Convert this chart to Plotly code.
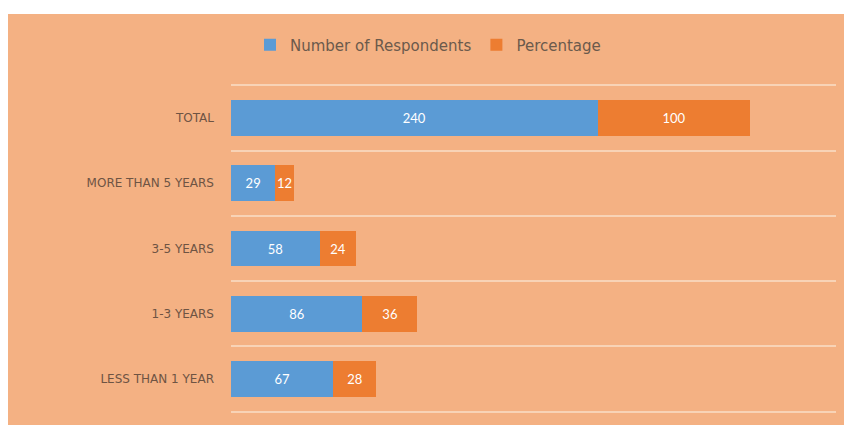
import plotly.graph_objects as go

categories = ["LESS THAN 1 YEAR", "1-3 YEARS", "3-5 YEARS", "MORE THAN 5 YEARS", "TOTAL"]
respondents = [67, 86, 58, 29, 240]
percentage = [28, 36, 24, 12, 100]

OFF = 8  # page body margin
W, H = 852 - OFF, 425 - OFF
ml, mr, mt, mb = 231 - OFF, 16, 84 - OFF, 11.5
pw, ph = W - ml - mr, H - mt - mb

def px_x(x):
    return (x - OFF - ml) / pw

def px_y(y):
    return (H - mb - (y - OFF)) / ph

fig = go.Figure()
fig.add_trace(go.Bar(
    y=categories, x=respondents, orientation="h", name="Number of Respondents",
    marker=dict(color="#5B9BD5", line=dict(width=0)),
    text=respondents, textposition="inside", insidetextanchor="middle",
    textfont=dict(color="white", size=13, family="Lato"),
    constraintext="none",
))
fig.add_trace(go.Bar(
    y=categories, x=percentage, orientation="h", name="Percentage",
    marker=dict(color="#ED7D31", line=dict(width=0)),
    text=percentage, textposition="inside", insidetextanchor="middle",
    textfont=dict(color="white", size=13, family="Lato"),
    constraintext="none",
))

fig.add_shape(type="rect", xref="paper", yref="paper",
              x0=px_x(0), x1=px_x(860), y0=px_y(430), y1=px_y(14),
              fillcolor="#F4B183", line=dict(width=0), layer="below")

fig.update_layout(
    width=W, height=H,
    margin=dict(l=ml, r=mr, t=mt, b=mb, pad=0),
    paper_bgcolor="white", plot_bgcolor="rgba(0,0,0,0)",
    barmode="stack", bargap=0.45,
    uniformtext=dict(mode="show", minsize=12),
    font=dict(family="Lato"),
    showlegend=True,
    legend=dict(orientation="h", x=px_x(428), y=px_y(45), xanchor="center", yanchor="middle",
                font=dict(size=15, color="#6b5a4c", family="DejaVu Sans"), bgcolor="rgba(0,0,0,0)",
                itemwidth=30, traceorder="normal"),
    xaxis=dict(range=[0, 396], visible=False, showgrid=False, zeroline=False, fixedrange=True),
    yaxis=dict(type="category", categoryorder="array", categoryarray=categories,
               tickson="boundaries", showgrid=True, gridcolor="#F8D3B6", gridwidth=1.5,
               ticks="", ticklabelstandoff=16,
               tickfont=dict(size=12, color="#6e5443", family="DejaVu Sans"),
               showline=False, zeroline=False, range=[-0.52, 4.52]),
)

fig.write_html("out.html")
